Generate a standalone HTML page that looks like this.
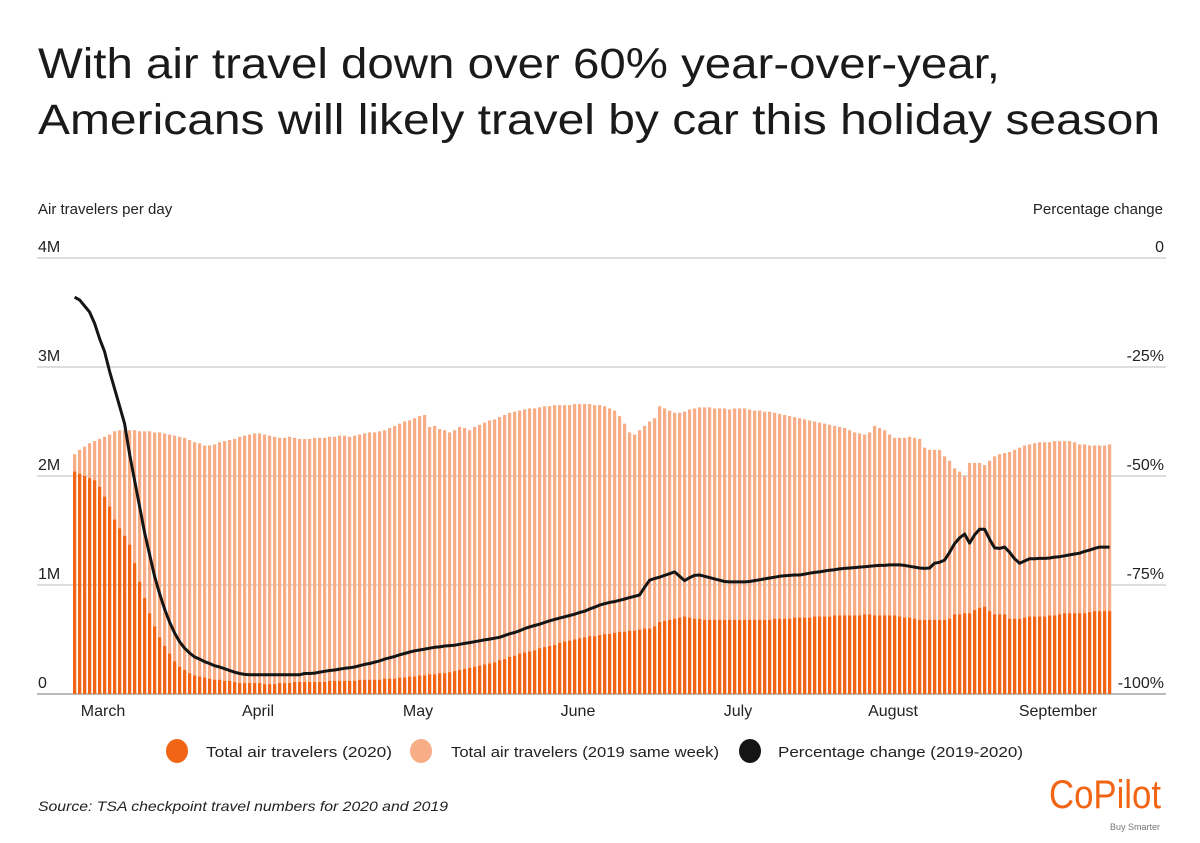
<!DOCTYPE html>
<html><head><meta charset="utf-8"><style>
body{margin:0;background:#fff;width:1200px;height:838px;overflow:hidden;font-family:"Liberation Sans",sans-serif;}
svg text{font-family:"Liberation Sans",sans-serif;}
</style></head><body>
<svg id="chart" width="1200" height="838" viewBox="0 0 1200 838" xmlns="http://www.w3.org/2000/svg">
<text x="38" y="78" font-size="43" fill="#1a1a1a" textLength="962" lengthAdjust="spacingAndGlyphs">With air travel down over 60% year-over-year,</text>
<text x="38" y="134" font-size="43" fill="#1a1a1a" textLength="1122" lengthAdjust="spacingAndGlyphs">Americans will likely travel by car this holiday season</text>
<text x="38" y="214" font-size="15" fill="#222">Air travelers per day</text>
<text x="1163" y="214" font-size="15" fill="#222" text-anchor="end">Percentage change</text>
<g id="grid"></g>
<g id="bars19"></g>
<g id="bars20"></g>
<path id="pline" fill="none" stroke="#151515" stroke-width="3" stroke-linejoin="round"/>
<g id="months"></g>
<g font-size="15" fill="#222">
<g><ellipse cx="177" cy="751" rx="11" ry="12" fill="#f26515"/><text x="206" y="757" textLength="186" lengthAdjust="spacingAndGlyphs">Total air travelers (2020)</text></g>
<g><ellipse cx="421" cy="751" rx="11" ry="12" fill="#f7ad85"/><text x="451" y="757" textLength="268" lengthAdjust="spacingAndGlyphs">Total air travelers (2019 same week)</text></g>
<g><ellipse cx="750" cy="751" rx="11" ry="12" fill="#151515"/><text x="778" y="757" textLength="245" lengthAdjust="spacingAndGlyphs">Percentage change (2019-2020)</text></g>
</g>
<text x="38" y="811" font-size="14" font-style="italic" fill="#222" textLength="410" lengthAdjust="spacingAndGlyphs">Source: TSA checkpoint travel numbers for 2020 and 2019</text>
<text x="1161" y="808" font-size="40" fill="#f26515" text-anchor="end" textLength="112" lengthAdjust="spacingAndGlyphs">CoPilot</text>
<text x="1160" y="830" font-size="9" fill="#777" text-anchor="end" font-family="Liberation Serif, serif">Buy Smarter</text>
</svg>
<script>
const months = ["March","April","May","June","July","August","September"];
const monthDays = [6,37,69,101,133,164,197];
const leftTicks = ["0","1M","2M","3M","4M"];
const leftTickValues = [0,1,2,3,4];
const rightTicks = ["-100%","-75%","-50%","-25%","0"];
const travelers2019 = [2.20,2.24,2.27,2.30,2.32,2.34,2.36,2.38,2.41,2.42,
2.42,2.42,2.42,2.41,2.41,2.41,2.40,2.40,2.39,2.38,
2.37,2.36,2.35,2.33,2.31,2.30,2.28,2.28,2.29,2.31,
2.32,2.33,2.34,2.36,2.37,2.38,2.39,2.39,2.38,2.37,
2.36,2.35,2.35,2.36,2.35,2.34,2.34,2.34,2.35,2.35,
2.35,2.36,2.36,2.37,2.37,2.36,2.37,2.38,2.39,2.40,
2.40,2.41,2.42,2.44,2.46,2.48,2.50,2.51,2.53,2.55,
2.56,2.45,2.46,2.43,2.42,2.40,2.42,2.45,2.44,2.42,
2.45,2.47,2.49,2.51,2.52,2.54,2.56,2.58,2.59,2.60,
2.61,2.62,2.62,2.63,2.64,2.64,2.65,2.65,2.65,2.65,
2.66,2.66,2.66,2.66,2.65,2.65,2.64,2.62,2.60,2.55,
2.48,2.40,2.38,2.42,2.46,2.50,2.53,2.64,2.62,2.60,
2.58,2.58,2.59,2.61,2.62,2.63,2.63,2.63,2.62,2.62,
2.62,2.61,2.62,2.62,2.62,2.61,2.60,2.60,2.59,2.59,
2.58,2.57,2.56,2.55,2.54,2.53,2.52,2.51,2.50,2.49,
2.48,2.47,2.46,2.45,2.44,2.42,2.40,2.39,2.38,2.40,
2.46,2.44,2.42,2.38,2.35,2.35,2.35,2.36,2.35,2.34,
2.26,2.24,2.24,2.24,2.18,2.14,2.07,2.04,2.00,2.12,
2.12,2.12,2.10,2.14,2.18,2.20,2.21,2.22,2.24,2.26,
2.28,2.29,2.30,2.31,2.31,2.31,2.32,2.32,2.32,2.32,
2.31,2.29,2.29,2.28,2.28,2.28,2.28,2.29];
const travelers2020 = [2.04,2.02,2.00,1.98,1.96,1.90,1.81,1.72,1.60,1.52,
1.45,1.37,1.20,1.03,0.88,0.74,0.62,0.52,0.44,0.37,
0.30,0.25,0.22,0.19,0.17,0.16,0.15,0.14,0.13,0.13,
0.12,0.12,0.11,0.10,0.10,0.10,0.10,0.10,0.09,0.09,
0.09,0.10,0.10,0.10,0.11,0.11,0.11,0.11,0.11,0.11,
0.11,0.12,0.12,0.12,0.12,0.12,0.12,0.13,0.13,0.13,
0.13,0.13,0.14,0.14,0.14,0.15,0.15,0.16,0.16,0.17,
0.17,0.18,0.18,0.19,0.19,0.20,0.21,0.22,0.23,0.24,
0.25,0.26,0.27,0.28,0.29,0.31,0.32,0.34,0.35,0.37,
0.38,0.39,0.40,0.42,0.43,0.44,0.45,0.47,0.48,0.49,
0.50,0.51,0.52,0.53,0.53,0.54,0.55,0.55,0.56,0.57,
0.57,0.58,0.58,0.59,0.60,0.60,0.62,0.66,0.67,0.68,
0.69,0.70,0.71,0.70,0.69,0.69,0.68,0.68,0.68,0.68,
0.68,0.68,0.68,0.68,0.68,0.68,0.68,0.68,0.68,0.68,
0.69,0.69,0.69,0.69,0.70,0.70,0.70,0.70,0.71,0.71,
0.71,0.71,0.72,0.72,0.72,0.72,0.72,0.72,0.73,0.73,
0.72,0.72,0.72,0.72,0.72,0.71,0.70,0.70,0.69,0.68,
0.68,0.68,0.68,0.68,0.68,0.69,0.73,0.73,0.74,0.74,
0.77,0.79,0.80,0.76,0.73,0.73,0.73,0.69,0.69,0.69,
0.70,0.71,0.71,0.71,0.71,0.72,0.72,0.73,0.74,0.74,
0.74,0.74,0.74,0.75,0.76,0.76,0.76,0.76];
const pctChange = [-9,-9.6,-11,-12.4,-15,-18.5,-21.5,-26,-30,-34,
-38,-45,-51,-57,-63,-68,-73,-77,-80.5,-83.5,
-86,-88,-89.5,-90.6,-91.5,-92,-92.6,-93,-93.5,-93.8,
-94.2,-94.6,-95,-95.3,-95.5,-95.6,-95.6,-95.6,-95.6,-95.6,
-95.6,-95.6,-95.6,-95.6,-95.6,-95.6,-95.3,-95.3,-95.2,-95,
-94.8,-94.6,-94.5,-94.3,-94.1,-94,-93.8,-93.5,-93.2,-93,
-92.7,-92.4,-92,-91.7,-91.4,-91,-90.7,-90.4,-90.1,-89.9,
-89.7,-89.5,-89.3,-89.2,-89,-88.9,-88.8,-88.6,-88.4,-88.2,
-88,-87.8,-87.6,-87.4,-87.2,-87,-86.6,-86.2,-85.9,-85.5,
-85,-84.6,-84.3,-84,-83.6,-83.2,-82.9,-82.6,-82.3,-82,
-81.7,-81.3,-81,-80.5,-80.1,-79.6,-79.3,-79,-78.8,-78.5,
-78.2,-77.9,-77.6,-77.3,-75.5,-73.9,-73.5,-73.2,-72.8,-72.4,
-72,-73,-74,-73.3,-72.8,-72.7,-73,-73.3,-73.6,-73.9,
-74.2,-74.3,-74.3,-74.3,-74.3,-74.2,-74,-73.8,-73.6,-73.4,
-73.2,-73,-72.9,-72.8,-72.7,-72.7,-72.5,-72.3,-72.1,-72,
-71.8,-71.6,-71.5,-71.3,-71.2,-71.1,-71,-70.9,-70.8,-70.7,
-70.6,-70.5,-70.5,-70.4,-70.4,-70.4,-70.5,-70.7,-70.9,-71.1,
-71.2,-71.1,-70,-69.8,-69.3,-67.5,-65.5,-64.2,-63.3,-65.4,
-63.5,-62.2,-62.2,-64.5,-66.5,-66.6,-66.3,-67.5,-69,-70,
-69.5,-69,-69,-68.9,-68.9,-68.8,-68.6,-68.5,-68.3,-68.1,
-67.9,-67.7,-67.3,-67,-66.6,-66.3,-66.3,-66.3];

const NS="http://www.w3.org/2000/svg";
const X0=73, STEP=5, BW=3.2, Y0=694, YTOP=258;
const xDay=d=>X0+STEP*d;
const yM=v=>Y0-(Y0-YTOP)*v/4;
const yP=p=>Y0-(Y0-YTOP)*(p+100)/100;
function mk(tag,attrs,parent){const e=document.createElementNS(NS,tag);for(const k in attrs)e.setAttribute(k,attrs[k]);parent.appendChild(e);return e;}

const grid=document.getElementById('grid');
leftTickValues.forEach((v,i)=>{
  const y=yM(v);
  const ln=mk('line',{x1:37,x2:1166,y1:y,y2:y,stroke:i===0?'#bbb':'#d4d4d4','stroke-width':i===0?2:1.5},grid);
  
  
  const t=mk('text',{x:38,y:y-6,'font-size':16,fill:'#222'},grid);
  t.textContent=leftTicks[i];
  
  
  const r=mk('text',{x:1164,y:y-6,'font-size':16,fill:'#222','text-anchor':'end'},grid);
  r.textContent=rightTicks[i];
  
  
});

const g19=document.getElementById('bars19');
travelers2019.forEach((v,d)=>{
  const y=yM(v);
  const b=mk('rect',{x:xDay(d),y:y,width:BW,height:Y0-y,fill:'#f7ad85'},g19);
  
  
});
const g20=document.getElementById('bars20');
travelers2020.forEach((v,d)=>{
  const y=yM(v);
  const b=mk('rect',{x:xDay(d),y:y,width:BW,height:Y0-y,fill:'#f26515'},g20);
  
  
});
let dstr='';
pctChange.forEach((p,d)=>{dstr+=(d?'L':'M')+(xDay(d)+BW/2).toFixed(1)+','+yP(p).toFixed(1);});
document.getElementById('pline').setAttribute('d',dstr);

const gm=document.getElementById('months');
months.forEach((m,i)=>{
  const t=mk('text',{x:xDay(monthDays[i]),y:716,'font-size':16,fill:'#222','text-anchor':'middle'},gm);
  t.textContent=m;
  
  
});
</script>
</body></html>
